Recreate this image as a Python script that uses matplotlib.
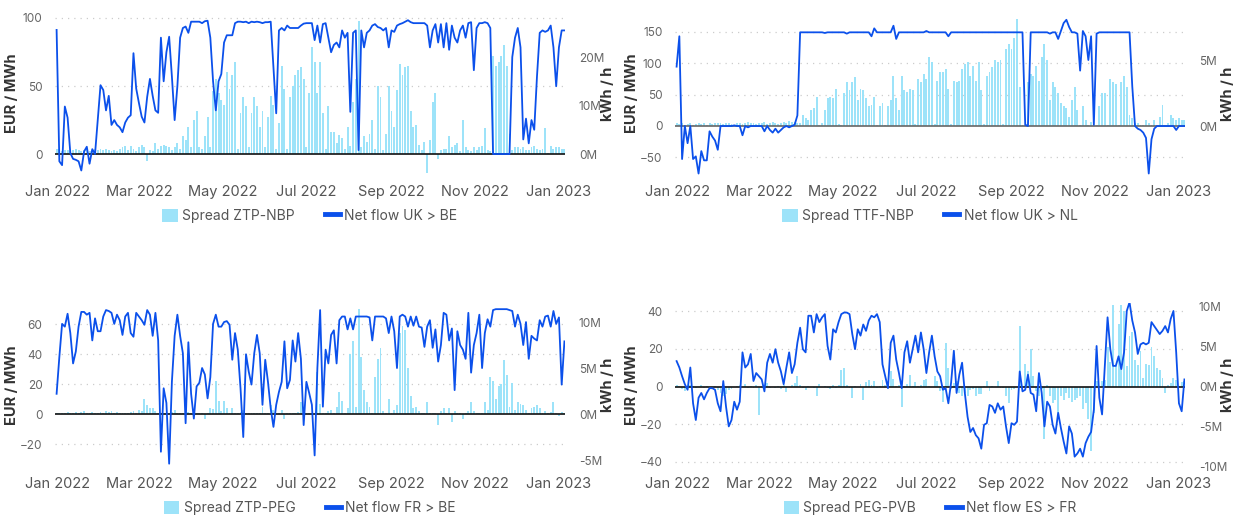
import matplotlib
matplotlib.use("Agg")
import matplotlib.pyplot as plt
import matplotlib.dates as mdates
from matplotlib.patches import Patch
from matplotlib.lines import Line2D
import pandas as pd

plt.rcParams['font.family'] = ['Inter', 'DejaVu Sans']

# one value every 2 days, 2021-12-31 .. 2023-01-05
dates = pd.date_range("2021-12-31", periods=186, freq="2D")

# ---- ZTP-NBP spread (EUR/MWh) / net flow UK > BE (M kWh/h)
spread_ztp_nbp = (
    [4, 4, 2, 3, 3, 2, 3, 4, 3, 2, 3, 4, 2, 3, 4, 3]
    + [4, 3, 4, 3, 2, 3, 2, 4, 5, 6, 3, 6, 4, 2]
    + [5, 7, 5, -5, 3, 2, 8, 4, 6, 7, 6, 5, 3, 5, 8]
    + [4, 13, 10, 20, 5, 25, 32, 5, 4, 13, 27, 5, 46, 55, 45]
    + [40, 36, 60, 48, 58, 68, 4, 30, 42, 35, 5, 30, 42, 35, 20, 32]
    + [5, 27, 43, 36, 4, 23, 65, 48, 4, 42, 50, 58, 62, 64, 55]
    + [5, 45, 79, 68, 45, 68, 30, 4, 35, 16, 16, 8, 14, 12, 4]
    + [20, 6, 38, 55, 98, 5, 13, 9, 15, 25, 4, 50, 42, 3, 15, 50]
    + [32, 20, 47, 66, 58, 64, 65, 32, 20, 21, 7, 3, 9, -14, 10]
    + [38, 45, -4, 3, 4, 4, 13, 5, 7, 8, 2, 25, 5, 3, 2, 5]
    + [3, 5, 6, 19, 3, 2, 72, 65, 68, 72, 80, 65, 15, 3, 5]
    + [5, 4, 5, 3, 3, 5, 6, 4, 3, 4, 19, 1, 6, 4, 5, 5, 4, 4]
)
flow_uk_be = (
    [25.6, -1.5, -2.3, 9.8, 7.5, 0.2, -1.0, -1.2, -1.5, -3.4, 0.5, 1.5, -2.0, 1.0, 0, 7]
    + [14.2, 13.2, 9, 12, 6, 7, 6, 5.5, 4.5, 6.5, 7.5, 8, 20.8, 13.5]
    + [10.5, 7.7, 6.5, 11.8, 15.5, 12, 9, 8.5, 24, 15, 21, 24.2, 16, 7, 14]
    + [24, 26, 26.3, 25, 27.3, 27.3, 27.3, 27.3, 27, 27.4, 27.5, 24, 15, 9, 15]
    + [16.5, 23, 24.5, 24.5, 24.5, 27, 27.3, 27.3, 27.2, 27.3, 27, 27.3, 27.2, 27.3, 27.2, 27]
    + [27.2, 27.2, 27.3, 18, 8.4, 25.5, 26, 25.5, 26.5, 26, 26, 26, 26, 26.5, 26.9]
    + [27, 27, 27, 23.5, 26.5, 23, 26.8, 27, 24, 21, 22.5, 23, 22, 25.5, 24]
    + [25, 8.7, 25, 25.5, 0.8, 25.5, 22, 25, 25.5, 26.5, 26.8, 26.2, 26, 25.5, 26, 22]
    + [25.5, 25.2, 26.5, 26.8, 27, 27.3, 27.6, 27.2, 27, 27, 27, 27, 27, 26.5, 22]
    + [25.5, 26.8, 23, 26.8, 22, 27, 21.5, 26.5, 24, 23, 25.5, 26.5, 24, 27, 27.2, 17.3]
    + [26, 27, 27, 27.2, 27, 26, 0, 0, 0, 0, 0, 0, 0, 20, 24]
    + [26, 22, 3, 7.3, 2.2, 7, 5, 16, 25, 25.5, 25.2, 25.5, 26.5, 22, 14, 22, 25.5, 25.5]
)

# ---- TTF-NBP spread / net flow UK > NL
spread_ttf_nbp = (
    [5, 3, 4, 2, 3, 4, 2, 3, 4, 3, 5, 2, 4, 3, 5, 4]
    + [4, 3, 5, 4, 3, 2, 4, 5, 3, 4, 6, 5, 4, 3]
    + [5, 4, 6, 3, 5, 7, 4, 3, 5, 6, 4, 8, 6, 7, 5]
    + [5, 17, 12, 9, 25, 28, 46, 2, 4, 25, 44, 46, 44, 59, 3]
    + [2, 52, 70, 57, 70, 78, 41, 59, 57, 44, 31, 33, 46, 2, 31, 36]
    + [2, 31, 41, 80, 44, 25, 80, 57, 54, 59, 57, 3, 75, 70, 83]
    + [75, 109, 101, 3, 72, 85, 85, 91, 59, 3, 72, 70, 72, 91, 99]
    + [101, 80, 96, 72, 101, 57, 3, 80, 85, 93, 104, 101, 104, 3, 123, 130]
    + [123, 140, 170, 62, 2, 2, 70, 83, 80, 96, 72, 109, 130, 104, 41]
    + [70, 62, 52, 36, 31, 28, 15, 41, 62, 25, 2, 31, 9, 2, 7, 2]
    + [2, 31, 52, 52, 2, 75, 70, 67, 2, 70, 80, 62, 17, 12, 4]
    + [4, 2, 2, 9, 5, 2, 9, 2, 15, 33, 2, 4, 17, 12, 9, 12, 9, 9]
)
flow_uk_nl = (
    [4.5, 6.8, -2.5, 0, -1.3, 0, -2.5, -2.3, -3.6, -1.9, -2.6, -2.6, -0.4, -0.8, -1.1, -1.8]
    + [0, 0, 0, 0, 0, 0.05, 0, 0, -0.7, 0, -0.1, 0, 0, 0]
    + [0, 0, -0.4, 0, -0.3, -0.5, -0.2, -0.5, -0.3, -0.1, 0, -0.1, 0, 0.1, 0.8]
    + [7.1, 7.1, 7.1, 7.1, 7.1, 7.1, 7.1, 7.1, 7.1, 7.05, 7.1, 7.1, 7.1, 7.1, 7.1]
    + [7.1, 7.1, 7.0, 7.1, 7.1, 7.1, 7.1, 7.1, 7.1, 7.1, 7.1, 6.8, 7.4, 7.1, 7.1, 7.1]
    + [7.1, 7.1, 7.1, 7.6, 6.6, 7.1, 7.1, 7.1, 7.1, 7.1, 7.1, 7.1, 7.1, 7.1, 7.1]
    + [7.2, 7.1, 7.1, 7.1, 7.1, 7.1, 7.1, 7.1, 6.8, 7.1, 7.1, 7.1, 7.1, 7.1, 7.1]
    + [7.1, 7.1, 7.1, 7.1, 7.1, 7.1, 7.1, 7.1, 7.1, 7.1, 7.1, 7.1, 7.1, 7.1, 7.1, 7.1]
    + [7.1, 7.1, 7.1, 7.1, 7.1, 0.1, 0, 7.1, 7.1, 7.1, 7.1, 7.1, 7.1, 7.1, 7.0]
    + [7.1, 7.1, 6.6, 7.2, 7.8, 8.05, 7.5, 7.1, 7.1, 7.0, 4.2, 7.2, 6.8, 5.0, 6.8, 0.1]
    + [7.0, 7.1, 7.1, 7.1, 7.1, 7.1, 7.1, 7.1, 7.1, 7.1, 7.1, 7.1, 7.1, 3, 0]
    + [-0.2, -0.3, -0.5, -0.9, -3.6, -1.0, -0.2, 0, 0, 0, 0, 0, 0, 0, -0.3, 0, 0, 0]
)

# ---- ZTP-PEG spread / net flow FR > BE
spread_ztp_peg = (
    [1, 1, 0.5, 1, 1.5, 1, 0.5, 1.5, 1, 1.5, 2, 1, 0.5, 1.5, 1, 1]
    + [1.5, 1, 2, 1.5, 2, 1, 1.5, 1, 1, 0.5, 1, 1.5, 2, 1]
    + [3, 2, 10, 6, 4, 4, 2, 1, 0.5, 1, 0.5, 1, 1.5, 2.5, 1]
    + [1, 0.5, 1, 1.5, 0.5, 1, 1, 0.5, 1, -3, 1, 4, 3.5, 22, 9]
    + [2, 9, 4, 1, 4, 0.5, 1, 1.5, 3, 0.5, 1, 0.5, 1, 0.5, 1, 5]
    + [1, 1, 6, 3, 1, 0.5, 3, -3.5, 1, 0.5, 1, 0.5, 1.5, 8, 5]
    + [0.5, 1, 0.5, 1, 28, 7, 1, 0.5, 2, 2.5, 1, 5, 15, 9, 1]
    + [4, 40, 49, 5, 70, 38, 16, 8, 5, 1, 25, 37, 44, 2, 1, 10]
    + [1, 3, 6, 54, 59, 56, 31, 12, 4, 5, 2, 1, 0.5, 8, 0.5]
    + [1, 0.5, -7, 2, 4, 1, 4, -5, 2, 1, 0.5, -3, 1, 2, 8, 2]
    + [0.5, 1, 0.5, 8, 3, 25, 22, 10, 19, 20, 36, 26, 5, 21, 3]
    + [8, 7, 6, 3, 1, 4, 5, 6, 4, 1, 2, 1, 1.5, 8, 1, -1, 1.5, 1]
)
flow_fr_be = (
    [2.2, 6.2, 9.8, 9.5, 10.9, 8.8, 5.5, 6.8, 9.5, 11.1, 11.1, 10.8, 11.0, 8.0, 10.4, 9.0]
    + [9.0, 10.6, 11.3, 11.2, 11.0, 9.8, 10.8, 10.2, 8.6, 10.6, 11.0, 8.8, 8.4, 11.0]
    + [10.6, 10.2, 9.7, 11.3, 10.8, 8.5, 11.0, 8.0, -4.1, 2.8, 1.2, -5.4, 3.5, 8.5, 10.8]
    + [8.5, 6.6, -1.0, 7.8, 2.2, -0.5, 3.0, 3.4, 5.0, 4.3, 1.7, 4.0, 9.8, 10.8, 9.5]
    + [9.5, 10.0, 10.1, 9.7, 5.9, 8.8, 7.0, 2.8, -2.5, 6.5, 4.6, 3.2, 6.6, 8.6, 6.6, 1.0]
    + [5.9, 3.5, 0.6, -1.4, 1.0, 2.4, 3.5, 7.9, 2.8, 3.7, 8.0, 5.7, 8.8, 6.0, -1.2]
    + [3.5, 2.3, 1.0, -4.5, 5.0, 11.3, 0.8, 7.0, 5.5, 8.6, 9.1, 5.5, 10.2, 10.6, 10.6]
    + [9.2, 10.4, 9.2, 10.6, 10.6, 10.6, 10.6, 10.6, 10.5, 8.0, 10.6, 10.6, 10.6, 10.6, 10.4, 8.8]
    + [10.6, 9.0, 5.0, 10.6, 10.8, 10.6, 9.5, 10.6, 9.6, 10.6, 9.5, 9.4, 7.3, 9.5, 10.2]
    + [7.2, 9.2, 5.7, 7.5, 11.0, 10.8, 8.0, 9.3, 2.6, 9.0, 7.5, 7.0, 6.0, 11.0, 4.5, 7.5]
    + [8.8, 10.8, 5.0, 8.8, 10.3, 9.5, 11.3, 11.4, 11.4, 11.4, 11.4, 11.4, 11.3, 11.2, 9.5]
    + [10.8, 9.8, 7.5, 10.0, 6.0, 8.5, 8.2, 8.0, 10.2, 9.5, 10.6, 10.7, 9.5, 11.2, 9.8, 10.5, 3.2, 7.9]
)

# ---- PEG-PVB spread / net flow ES > FR
spread_peg_pvb = (
    [1, 0.5, -1.5, -2.5, -0.5, 1, 0.5, -1, -0.5, 1, -1, 0.5, -0.5, -1, 0.5, -2]
    + [-3.4, -5, -4, -2, -1.5, -0.5, 0.5, 1, -0.5, 1.5, -1, 0.5, -1, 1]
    + [-15, -0.5, 1, 2, -1, -0.5, -1, 0.5, -1.5, 1, -3, -0.5, 1, 2, 5.5]
    + [1, -1, -2, 0.5, -0.5, -1, -5, 1.5, -0.5, 0.5, -1, -1.5, 1, -1, 1]
    + [9, 10, 1, -1, -6, 0.5, -0.5, 1.5, -7, 2.5, 3.5, 1, 3, -1, 0.5, 3.5]
    + [1, -0.5, 8, 4, 0.5, 1, -11, 0.5, 1.5, 6, 0.5, 2.5, 0.5, 1, 3.5]
    + [4, 0.5, -0.5, 5.5, 3, -2.5, -8, 23, 10, -1.5, 2, 3, -3.5, -5, -3.5]
    + [-5, -2, -1.5, -5, -4, -4, 0.5, 3, -2.5, 0.5, -0.5, 3, -1, -1, -5, -9]
    + [-2, -1.5, -0.5, 32, -2.5, 12, 8, 20, 5.5, -2.5, -5, -1.5, -28, 1, -5]
    + [-8.7, -7, -14, -5, -7, -3.5, -6, -8, -7, -6, -5, -12, -9, -17, -34, -14]
    + [3, -0.5, 3, 3.5, 21, 13, 43, 11, 33, 43, 40, 11, 27, 29, 14]
    + [11.5, 19, 4.5, 12, 11.5, 21, 16, 10, 9, 4.5, -3.5, 1, 2, 4.5, 3.5, 0.5, 2.5, 3]
)
flow_es_fr = (
    [3.2, 2.4, 1.3, 0.3, -0.4, 2.4, -2.1, -4.2, -1.4, -0.8, -1.6, -0.8, -0.2, -0.2, -0.4, -2.1]
    + [-3.1, 0.7, -2.5, -5.0, -4.2, -1.9, -2.9, -1.9, 4.3, 2.4, 2.8, 4.1, 0.7, 1.7]
    + [1.3, 0.9, -0.6, 3.0, 4.1, 3.0, 4.7, 3.0, 1.9, 0.3, 2.4, 4.3, 1.7, 2.8, 5.5]
    + [7.4, 4.7, 4.3, 8.9, 8.9, 6.8, 9.1, 8.1, 8.7, 9.1, 5.1, 3.4, 7.2, 6.8, 8.1]
    + [9.1, 9.3, 9.3, 9.1, 6.6, 4.7, 7.2, 6.4, 7.8, 7.0, 8.3, 8.9, 8.7, 9.1, 8.1, 2.8]
    + [1.3, -0.2, 5.5, 6.4, 3.4, 1.7, -0.2, 4.3, 5.7, 3.0, 4.7, 6.4, 4.3, 6.8, 4.7]
    + [1.7, 4.3, 6.4, 3.8, 1.9, 1.3, -0.4, -0.2, -2.1, 0.5, 4.5, -0.8, 1.5, 3.0, -0.8]
    + [-3.8, -5.7, -5.2, -6.1, -6.5, -7.8, -4.8, -4.6, -2.3, -2.5, -3.3, -2.1, -2.9, -2.5, -5.0, -7.1]
    + [-4.6, -4.8, -4.4, 1.9, -0.6, -0.4, 1.5, -0.8, -1.0, -3.1, 1.7, -0.8, -5.0, -1.9, -2.5]
    + [-4.8, -5.9, -3.3, -5.2, -6.9, -8.4, -5.0, -5.9, -8.8, -8.4, -7.8, -8.8, -7.1, -6.3, -5.7, -2.9]
    + [5.1, -1.4, -3.5, 2.6, 8.7, 4.7, 2.6, 2.6, 3.8, 2.2, 4.3, 9.5, 10.6, 8.3, 6.8]
    + [4.1, 5.3, 5.5, 5.3, 5.5, 8.1, 7.6, 7.1, 6.6, 7.0, 7.6, 6.8, 8.5, 9.5, 4.3, -2.1, -3.1, 0.9]
)

BAR_COLOR = "#9de3f9"
LINE_COLOR = "#0b50eb"
W, H = 1233, 515

fig = plt.figure(figsize=(W / 100, H / 100), dpi=100)


def panel(px, top, bottom, spread, flow, spread_name, flow_name,
          ylim, yticks, ylim2, yticks2, zero_color="#111111"):
    ax = fig.add_axes([px / W, 1 - bottom / H, 510 / W, (bottom - top) / H])
    ax.bar(dates, spread, width=1.4, color=BAR_COLOR, zorder=2)
    ax.set_ylim(*ylim)
    ax.set_yticks(yticks)
    for t in yticks:
        if t != 0:
            ax.axhline(t, color="#cccccc", lw=0.9, ls=(0, (1, 4)), zorder=0)
    ax.axhline(0, color=zero_color, lw=1.2, zorder=3)
    ax.set_xlim(pd.Timestamp("2021-12-29 20:00"), pd.Timestamp("2023-01-05 10:00"))
    ax.xaxis.set_major_locator(mdates.MonthLocator(bymonth=[1, 3, 5, 7, 9, 11]))
    ax.xaxis.set_major_formatter(mdates.DateFormatter("%b %Y"))
    ax.tick_params(axis="x", length=0, pad=7, labelsize=10.5, labelcolor="#555555")
    ax.tick_params(axis="y", length=0, pad=9, labelsize=8.5, labelcolor="#666666")
    ax.set_ylabel("EUR / MWh", fontsize=10.5, fontweight="bold", color="#333333")
    ax.yaxis.set_label_coords(-0.07, 0.5)
    for s in ax.spines.values():
        s.set_visible(False)

    ax2 = ax.twinx()
    ax2.plot(dates, flow, color=LINE_COLOR, lw=1.3, zorder=4)
    ax2.set_ylim(*ylim2)
    ax2.set_yticks(yticks2)
    ax2.set_yticklabels([f"{t}M" for t in yticks2])
    ax2.tick_params(axis="y", length=0, pad=10, labelsize=8.5, labelcolor="#666666")
    ax2.set_ylabel("kWh / h", fontsize=10.5, fontweight="bold", color="#333333")
    ax2.yaxis.set_label_coords(1.071, 0.5)
    for s in ax2.spines.values():
        s.set_visible(False)

    handles = [Patch(facecolor=BAR_COLOR, edgecolor="none"),
               Line2D([0], [0], color=LINE_COLOR, lw=3.5)]
    ax.legend(handles, [spread_name, flow_name], loc="center",
              bbox_to_anchor=(0.5, -0.25), ncol=2, frameon=False,
              fontsize=10, labelcolor="#555555", handlelength=1.1,
              handleheight=1.1, handletextpad=0.3, columnspacing=2.2)


panel(55, 12, 175, spread_ztp_nbp, flow_uk_be, "Spread ZTP-NBP", "Net flow UK > BE",
      (-15.4, 104.4), [0, 50, 100], (-4.33, 29.3), [0, 10, 20])
panel(675, 12, 175, spread_ttf_nbp, flow_uk_nl, "Spread TTF-NBP", "Net flow UK > NL",
      (-77.8, 181), [-50, 0, 50, 100, 150], (-3.71, 8.64), [0, 5], zero_color="#666666")
panel(55, 303, 467, spread_ztp_peg, flow_fr_be, "Spread ZTP-PEG", "Net flow FR > BE",
      (-35.3, 74), [-20, 0, 20, 40, 60], (-5.76, 12.07), [-5, 0, 5, 10])
panel(675, 303, 467, spread_peg_pvb, flow_es_fr, "Spread PEG-PVB", "Net flow ES > FR",
      (-42.7, 44.3), [-40, -20, 0, 20, 40], (-10.1, 10.5), [-10, -5, 0, 5, 10])

fig.savefig("out.png", dpi=100)
